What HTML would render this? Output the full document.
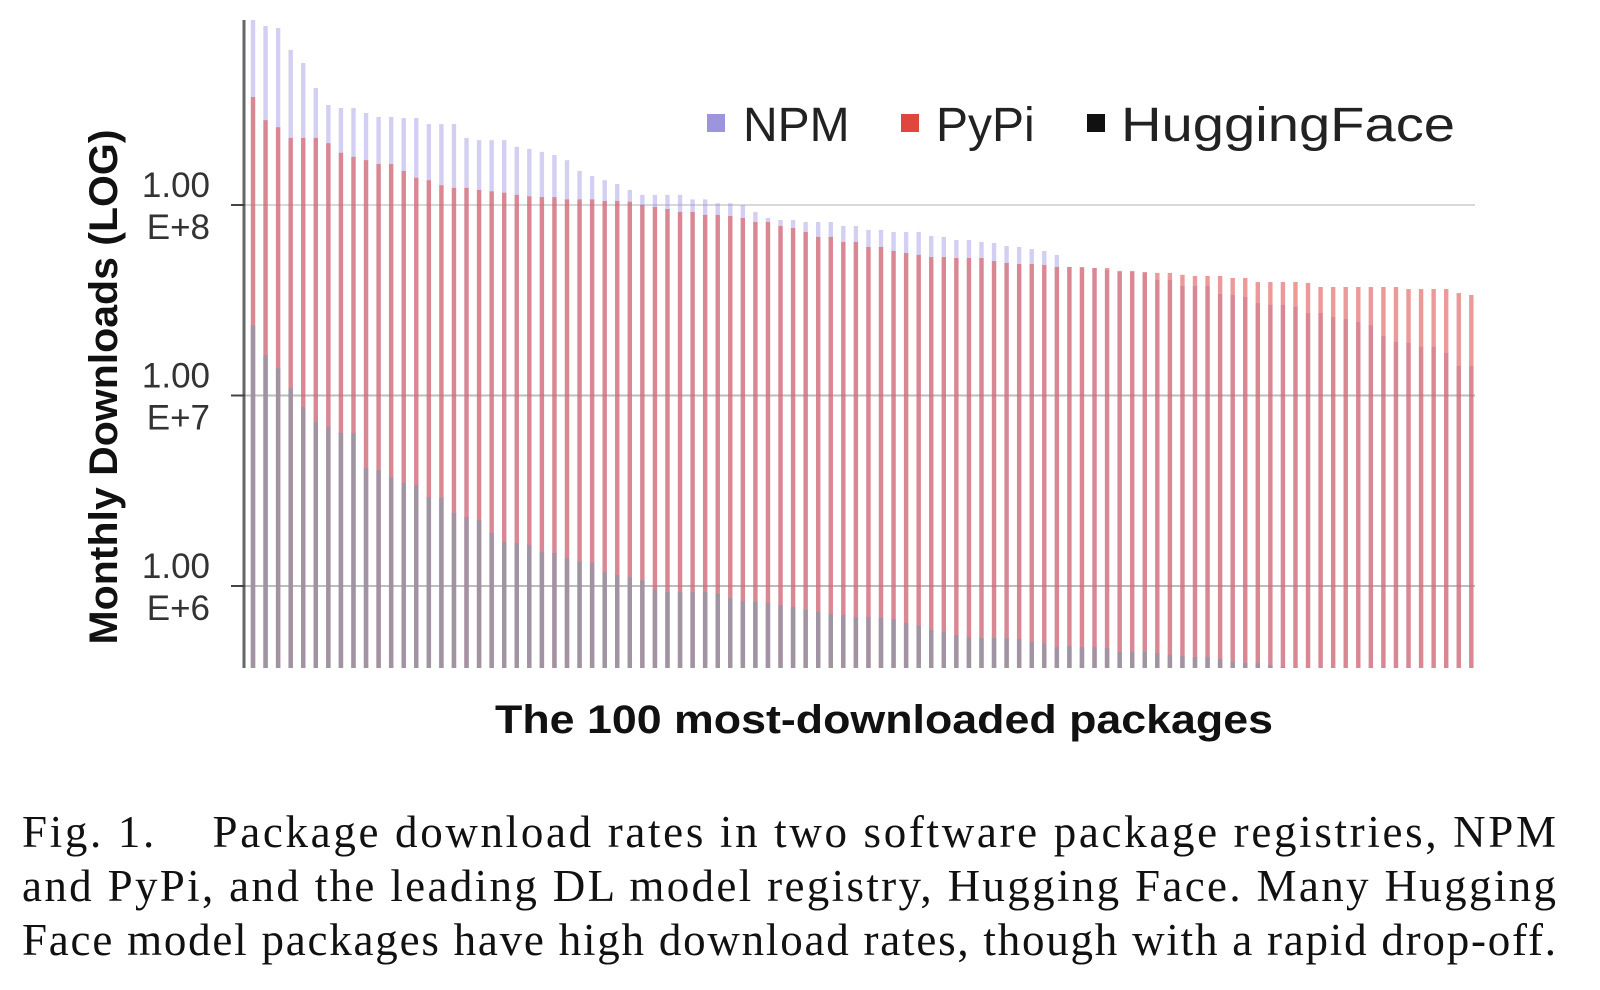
<!DOCTYPE html>
<html><head><meta charset="utf-8"><style>
html,body{margin:0;padding:0;background:#fff;}
svg{display:block;}
</style></head><body>
<svg id="chart" width="1600" height="990" viewBox="0 0 1600 990" xmlns="http://www.w3.org/2000/svg">
  <g id="grid"></g>
  <g id="bars"></g>
  <line x1="244" y1="20" x2="244" y2="668" stroke="#666" stroke-width="3"/>
  <g id="ticks"></g>
  <text transform="translate(117,387) rotate(-90)" text-anchor="middle" font-family="'Liberation Sans', sans-serif" font-weight="bold" font-size="40" fill="#111" textLength="515" lengthAdjust="spacingAndGlyphs">Monthly Downloads (LOG)</text>
  <text x="884" y="733" text-anchor="middle" font-family="'Liberation Sans', sans-serif" font-weight="bold" font-size="40" fill="#111" textLength="778" lengthAdjust="spacingAndGlyphs">The 100 most-downloaded packages</text>
  <g font-family="'Liberation Sans', sans-serif" font-size="48" fill="#222">
    <g><rect x="707" y="114" width="18" height="18" fill="#9c94dc"/><text x="743" y="141">NPM</text></g>
    <g><rect x="901" y="114" width="18" height="18" fill="#e0463e"/><text x="936" y="141">PyPi</text></g>
    <g><rect x="1087" y="114" width="18" height="18" fill="#111"/><text x="1121" y="141" textLength="334" lengthAdjust="spacingAndGlyphs">HuggingFace</text></g>
  </g>
  <g font-family="'Liberation Serif', serif" font-size="45" fill="#111">
    <text x="22" y="847" textLength="1534" lengthAdjust="spacing" xml:space="preserve">Fig. 1.    Package download rates in two software package registries, NPM</text>
    <text x="22" y="901" textLength="1534" lengthAdjust="spacing">and PyPi, and the leading DL model registry, Hugging Face. Many Hugging</text>
    <text x="22" y="955" textLength="1534" lengthAdjust="spacing">Face model packages have high download rates, though with a rapid drop-off.</text>
  </g>
</svg>
<script>
// Monthly downloads in millions, packages ranked by download count
const npm = [935,870,849,652,556,411,335,323,323,304,290,290,286,286,266,266,266,225,219,219,219,202,197,190,183,172,151,142,135,129,120,113,
113,113,113,107,107,102,102,100,92,85.5,83.4,83.4,81.4,81.4,81.4,77.6,77.6,74,74,72.2,72.2,72.2,68.8,68,65.5,65.5,64,63.2,60.9,60.2,58.7,
57.4,54.7,47.3,46.7,46.7,45.6,44.5,44.5,44,40.4,40.4,37.6,37.6,37.6,34.1,33.7,32.9,30.6,29.9,29.9,29.2,27.1,27.1,25.8,25.2,24.3,23.4,20.5,19.1,18.9,18,18,16.7,14.3,14.3];
const pypi = [369,279,256,225,225,225,211,188,179,172,164,164,151,139,135,127,123,123,120,118,116,113,111,110,110,107,107,107,105,105,104,100,
97.6,95.3,92,92,88.7,88.7,87.6,85.5,81.4,81.4,77.6,75.7,72.2,68,68,64,64,60.2,60.2,57.4,56,54.7,53.3,53.3,52.7,52.7,52.7,50.8,49.6,49,49,
48.4,47.3,47.3,47.3,46.7,46.7,45.1,45.1,44.5,44,44,43,42.4,42.4,42.4,41.4,41.4,39.4,39.4,39.4,39.4,39,37.1,37.1,37.1,37.1,37.1,37.1,37.1,36.2,36.2,36.2,36.2,34.5,33.7];
const huggingface = [23.4,16.3,13.9,10.9,8.7,7.26,6.84,6.36,6.36,4.16,4.06,3.73,3.47,3.39,2.93,2.90,2.42,2.30,2.22,1.90,1.70,1.68,1.64,1.51,1.49,1.40,1.34,1.32,1.18,1.14,1.11,1.07,
0.964,0.931,0.931,0.931,0.931,0.908,0.865,0.834,0.824,0.814,0.794,0.776,0.748,0.731,0.713,0.705,0.688,0.688,0.680,0.672,0.640,0.617,0.588,0.574,0.553,0.540,0.533,0.533,0.533,0.527,0.508,
0.5,0.478,0.484,0.478,0.478,0.473,0.451,0.451,0.451,0.445,0.435,0.43,0.424,0.424,0.414,0.399,0.394,0.394,0.385,0.376,0.371,0.362,0.357,0.357,0.353,0.349,0.344,0.34,0.336,0.336,0.332,0.332,0.328,0.324,0.32];
const tickValues = [100, 10, 1];
const tickLabels = [["1.00","E+8"],["1.00","E+7"],["1.00","E+6"]];

const NS = "http://www.w3.org/2000/svg";
const plotTop = 20, plotBottom = 668;
const yRef = 205, decade = 190.5; // 1E+8 (100M) at y=205
function yScale(v){ return yRef - decade * (Math.log10(v) - 2); }
const x0 = 253, step = 12.56;
function xScale(i){ return x0 + i * step; }

const grid = document.getElementById('grid');
const ticks = document.getElementById('ticks');
tickValues.forEach((v, k) => {
  const y = yScale(v);
  const gl = document.createElementNS(NS, 'line');
  gl.setAttribute('x1', 232); gl.setAttribute('x2', 1475);
  gl.setAttribute('y1', y); gl.setAttribute('y2', y);
  gl.setAttribute('stroke', k === 0 ? '#d8d8d8' : '#bdbdbd'); gl.setAttribute('stroke-width', 2);
  
  
  grid.appendChild(gl);
  const tm = document.createElementNS(NS, 'line');
  tm.setAttribute('x1', 231); tm.setAttribute('x2', 245);
  tm.setAttribute('y1', y); tm.setAttribute('y2', y);
  tm.setAttribute('stroke', '#444'); tm.setAttribute('stroke-width', 2);
  
  
  ticks.appendChild(tm);
  tickLabels[k].forEach((s, j) => {
    const t = document.createElementNS(NS, 'text');
    t.setAttribute('x', 210); t.setAttribute('y', y - 8 + j * 42);
    t.setAttribute('text-anchor', 'end');
    t.setAttribute('font-family', "'Liberation Sans', sans-serif");
    t.setAttribute('font-size', '35'); t.setAttribute('fill', '#333');
    t.textContent = s;
    
    
    ticks.appendChild(t);
  });
});

const barsG = document.getElementById('bars');
function drawSeries(arr, color, name){
  arr.forEach((v, i) => {
    const y = Math.max(plotTop, Math.min(plotBottom, yScale(v)));
    const r = document.createElementNS(NS, 'rect');
    r.setAttribute('x', xScale(i) - 2.2); r.setAttribute('width', 4.4);
    r.setAttribute('y', y); r.setAttribute('height', plotBottom - y);
    r.setAttribute('fill', color);
    
    
    barsG.appendChild(r);
  });
}
drawSeries(npm, 'rgba(150,140,225,0.42)', 'bar-npm');
drawSeries(pypi, 'rgba(222,90,90,0.62)', 'bar-pypi');
drawSeries(huggingface, 'rgba(150,150,165,0.85)', 'bar-huggingface');
</script>
</body></html>
